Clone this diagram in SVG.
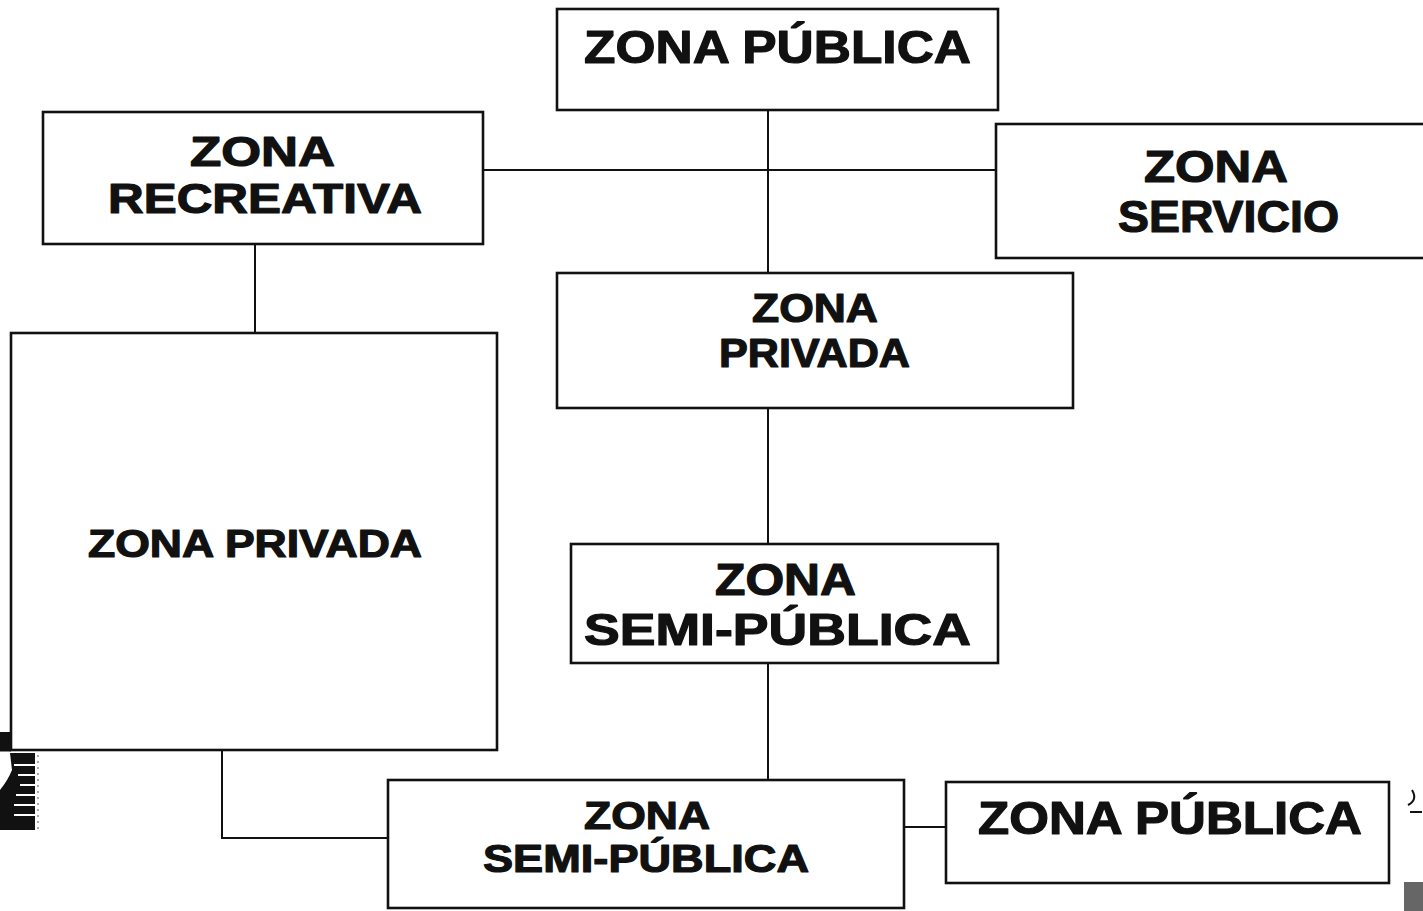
<svg xmlns="http://www.w3.org/2000/svg" width="1423" height="911" viewBox="0 0 1423 911">
<style>
.box{fill:#fff;stroke:#111;stroke-width:2.6}
.lbl{font-family:"Liberation Sans",Arial,sans-serif;font-weight:bold;fill:#111;stroke:#111;stroke-width:1.2;stroke-linejoin:round}
.con{fill:none;stroke:#111;stroke-width:2}
</style>
<rect width="1423" height="911" fill="#fff"/>
<g id="connectors">
<path class="con" d="M768 110 V273"/>
<path class="con" d="M483 170 H996"/>
<path class="con" d="M768 408 V544"/>
<path class="con" d="M768 663 V780"/>
<path class="con" d="M255 244 V333"/>
<path class="con" d="M222 750 V838 H388"/>
<path class="con" d="M904 827 H946"/>
</g>
<g id="zona-publica-top">
<rect class="box" x="557" y="9" width="441" height="101"/>
<text class="lbl" x="584" y="63" font-size="47" textLength="387" lengthAdjust="spacingAndGlyphs">ZONA PÚBLICA</text>
</g>
<g id="zona-recreativa">
<rect class="box" x="43" y="112" width="440" height="132"/>
<text class="lbl" x="190" y="166" font-size="42" textLength="145" lengthAdjust="spacingAndGlyphs">ZONA</text>
<text class="lbl" x="108" y="213" font-size="42" textLength="314" lengthAdjust="spacingAndGlyphs">RECREATIVA</text>
</g>
<g id="zona-servicio">
<rect class="box" x="996" y="124" width="440" height="134"/>
<text class="lbl" x="1144" y="182" font-size="44" textLength="144" lengthAdjust="spacingAndGlyphs">ZONA</text>
<text class="lbl" x="1118" y="232" font-size="44" textLength="221" lengthAdjust="spacingAndGlyphs">SERVICIO</text>
</g>
<g id="zona-privada-centro">
<rect class="box" x="557" y="273" width="516" height="135"/>
<text class="lbl" x="752" y="322" font-size="40" textLength="126" lengthAdjust="spacingAndGlyphs">ZONA</text>
<text class="lbl" x="719" y="367" font-size="40" textLength="191" lengthAdjust="spacingAndGlyphs">PRIVADA</text>
</g>
<g id="zona-privada-grande">
<rect class="box" x="11" y="333" width="486" height="417"/>
<text class="lbl" x="88" y="557" font-size="38" textLength="334" lengthAdjust="spacingAndGlyphs">ZONA PRIVADA</text>
</g>
<g id="zona-semipublica-centro">
<rect class="box" x="571" y="544" width="427" height="119"/>
<text class="lbl" x="715" y="595" font-size="44" textLength="141" lengthAdjust="spacingAndGlyphs">ZONA</text>
<text class="lbl" x="584" y="645" font-size="44" textLength="387" lengthAdjust="spacingAndGlyphs">SEMI-PÚBLICA</text>
</g>
<g id="zona-semipublica-baja">
<rect class="box" x="388" y="780" width="516" height="128"/>
<text class="lbl" x="584" y="829" font-size="38" textLength="126" lengthAdjust="spacingAndGlyphs">ZONA</text>
<text class="lbl" x="483" y="872" font-size="38" textLength="326" lengthAdjust="spacingAndGlyphs">SEMI-PÚBLICA</text>
</g>
<g id="zona-publica-baja">
<rect class="box" x="946" y="782" width="443" height="101"/>
<text class="lbl" x="978" y="834" font-size="47" textLength="384" lengthAdjust="spacingAndGlyphs">ZONA PÚBLICA</text>
</g>
<g id="scan-marks">
<path d="M0 750 H11" stroke="#111" stroke-width="3"/>
<rect x="0" y="732" width="10" height="18" fill="#111"/>
<path d="M10 753 H35 V830 H0 V790 Q8 780 12 770 Z" fill="#111"/>
<path d="M14 765 H35 M18 775 H35 M20 785 H35 M16 795 H35 M14 805 H35 M14 815 H35" stroke="#fff" stroke-width="2"/>
<path d="M38 755 V830" stroke="#555" stroke-width="1" stroke-dasharray="2 4"/>
<path d="M1412 790 Q1418 800 1408 805 M1410 812 H1422" stroke="#111" stroke-width="2" fill="none"/>
<rect x="1404" y="882" width="19" height="29" fill="#666"/>
</g>
</svg>
